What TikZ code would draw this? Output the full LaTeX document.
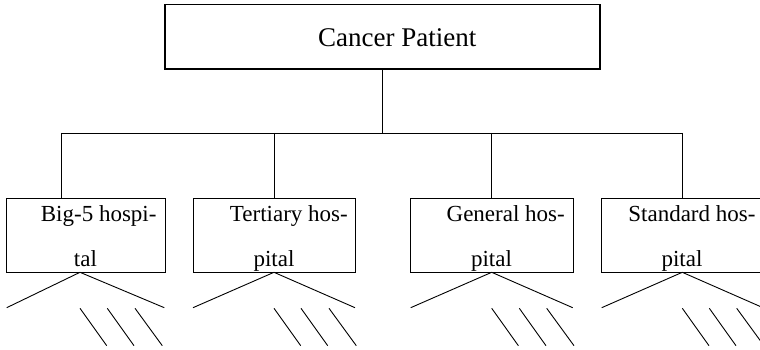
\documentclass[tikz,border=0pt]{standalone}
\usepackage{fontspec}
\setmainfont{Liberation Serif}
\begin{document}
\begin{tikzpicture}[x=1pt,y=-1pt,
  ln/.style={line width=0.9pt,black},
  topbox/.style={draw,line width=1.2pt,rectangle,inner sep=0pt,minimum width=435pt,minimum height=64.3pt},
  hbox/.style={draw,line width=0.9pt,rectangle,inner sep=0pt,minimum height=74pt},
  toptxt/.style={inner sep=0pt,anchor=base,font=\fontsize{27}{32}\selectfont},
  htxt/.style={inner sep=0pt,font=\fontsize{23}{28}\selectfont}]
\clip (0,0) rectangle (760,350);
% top box
\node[topbox] (top) at (382.5,36.85) {};
\node[toptxt] (toptext) at (397.3,46.7) {Cancer Patient};
% hospital boxes
\node[hbox,minimum width=159.7pt] (b1) at (85.85,235.3) {};
\node[hbox,minimum width=162pt] (b2) at (274,235.3) {};
\node[hbox,minimum width=162.5pt] (b3) at (491.75,235.3) {};
\node[hbox,minimum width=162pt] (b4) at (682,235.3) {};
% texts
\node[htxt,anchor=base east] (t1a) at (156.7,221.7) {Big-5 hospi-};
\node[htxt,anchor=base] (t1b) at (85.4,266) {tal};
\node[htxt,anchor=base east] (t2a) at (348,221.7) {Tertiary hos-};
\node[htxt,anchor=base] (t2b) at (274,266) {pital};
\node[htxt,anchor=base east] (t3a) at (565,221.7) {General hos-};
\node[htxt,anchor=base] (t3b) at (491.5,266) {pital};
\node[htxt,anchor=base east] (t4a) at (755.7,221.7) {Standard hos-};
\node[htxt,anchor=base] (t4b) at (682,266) {pital};
% tree connectors
\coordinate (hub) at (382.5,133);
\coordinate (j1) at (61,133);
\coordinate (j2) at (274,133);
\coordinate (j3) at (491.75,133);
\coordinate (j4) at (682,133);
\draw[ln] (top.south) -- (hub);
\draw[ln] (j1) -- (j4);
\draw[ln] (j1) -- (j1 |- b1.north);
\draw[ln] (j2) -- (b2.north);
\draw[ln] (j3) -- (b3.north);
\draw[ln] (j4) -- (b4.north);
% fans and hashes
\foreach \n/\ax/\l/\r/\ha/\hb/\hc in {1/80/6.7/164.3/80/107.3/135, 2/274/193/355/274/301/329, 3/491.7/410.7/572.7/491.7/519.3/546.7, 4/682.3/601.7/763/682.3/709.3/736.7}{
  \coordinate (apex\n) at (\ax,272.3);
  \coordinate (fl\n) at (\l,307.7);
  \coordinate (fr\n) at (\r,307.7);
  \draw[ln] (fl\n) -- (apex\n) -- (fr\n);
  \coordinate (ha\n) at (\ha,308.3);
  \coordinate (hb\n) at (\hb,308.3);
  \coordinate (hc\n) at (\hc,308.3);
  \draw[ln] (ha\n) -- ++(26.7,37.4);
  \draw[ln] (hb\n) -- ++(26.7,37.4);
  \draw[ln] (hc\n) -- ++(27.3,37.4);
}
\end{tikzpicture}
\end{document}
